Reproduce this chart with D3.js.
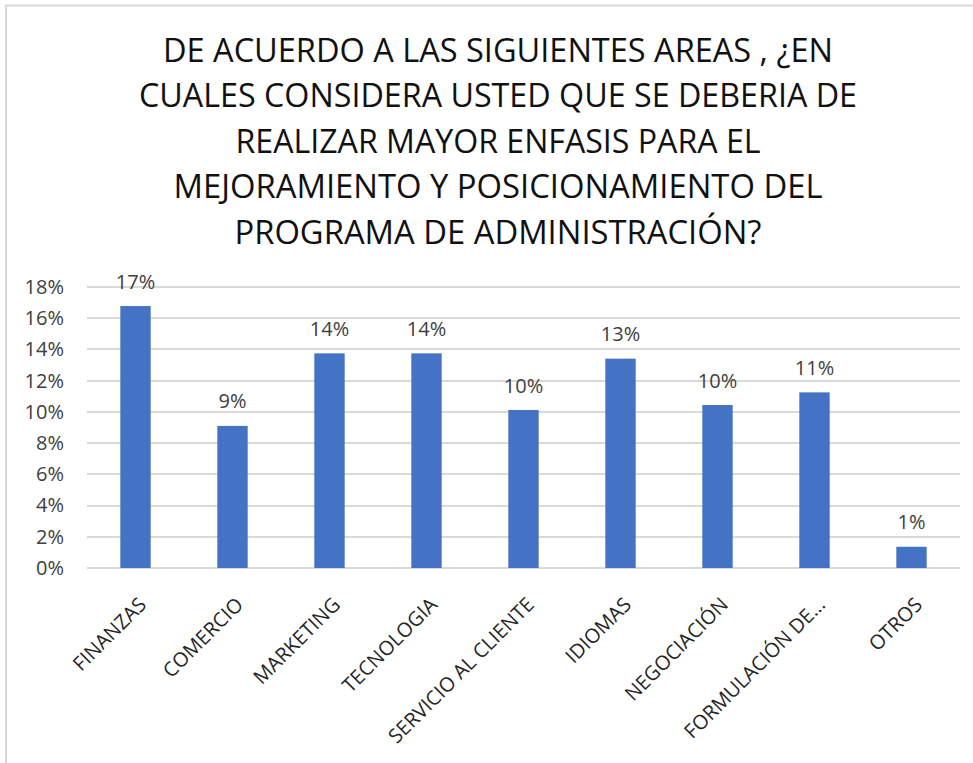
<!DOCTYPE html>
<meta charset="utf-8">
<title>Áreas de mayor énfasis</title>
<style>
body { margin: 0; background: #fff; }
svg { display: block; }
.grid line { stroke: #d9d9d9; stroke-width: 2px; shape-rendering: crispEdges; }
.axis text { font: 20px "Open Sans", sans-serif; fill: #404040; }
.xlabel { font: 20px "Open Sans", sans-serif; fill: #262626; }
.datalabel { font: 20px "Open Sans", sans-serif; fill: #404040; }
.title { font: 33px "Open Sans", sans-serif; fill: #111; }
</style>
<svg class="chart"></svg>
<script src="https://d3js.org/d3.v7.min.js"></script>
<script>

var categories = ["FINANZAS", "COMERCIO", "MARKETING", "TECNOLOGIA", "SERVICIO AL CLIENTE",
                  "IDIOMAS", "NEGOCIACIÓN", "FORMULACIÓN DE...", "OTROS"];
var values = [0.1678, 0.0910, 0.1375, 0.1375, 0.1012, 0.1341, 0.1044, 0.1125, 0.0136];
var yTicks = [0, 0.02, 0.04, 0.06, 0.08, 0.10, 0.12, 0.14, 0.16, 0.18];
var titleLines = ["DE ACUERDO A LAS SIGUIENTES AREAS , ¿EN",
                  "CUALES CONSIDERA USTED QUE SE DEBERIA DE",
                  "REALIZAR MAYOR ENFASIS PARA EL",
                  "MEJORAMIENTO Y POSICIONAMIENTO DEL",
                  "PROGRAMA DE ADMINISTRACIÓN?"];

var width = 973, height = 763;
var plot = {left: 87, right: 960, top: 287, bottom: 568};

var svg = d3.select(".chart")
    .attr("width", width)
    .attr("height", height);

// chart border, runs off the right and bottom edges
svg.append("rect")
    .attr("x", 6).attr("y", 5.5)
    .attr("width", 1000).attr("height", 1000)
    .attr("fill", "none")
    .attr("stroke", "#d9d9d9")
    .attr("stroke-width", 2);

// title
var titleWidths = [670, 718, 525, 649, 527];
svg.append("g").selectAll("text")
    .data(titleLines)
    .enter().append("text")
    .attr("class", "title")
    .attr("x", 498)
    .attr("y", function(d, i) { return 61.5 + i * 45.5; })
    .attr("text-anchor", "middle")
    .attr("textLength", function(d, i) { return titleWidths[i]; })
    .attr("lengthAdjust", "spacingAndGlyphs")
    .text(function(d) { return d; });

var x = d3.scaleBand()
    .domain(categories)
    .range([plot.left, plot.right])
    .paddingInner(0.687)
    .paddingOuter(0.3435);

var y = d3.scaleLinear()
    .domain([0, 0.18])
    .range([plot.bottom, plot.top]);

// gridlines
svg.append("g")
    .attr("class", "grid")
    .selectAll("line")
    .data(yTicks)
    .enter().append("line")
    .attr("x1", plot.left).attr("x2", plot.right)
    .attr("y1", function(d) { return Math.round(y(d)); })
    .attr("y2", function(d) { return Math.round(y(d)); });

// y axis labels
var yAxis = d3.axisLeft(y)
    .tickValues(yTicks)
    .tickFormat(d3.format(".0%"))
    .tickSize(0)
    .tickPadding(0);

svg.append("g")
    .attr("class", "axis")
    .attr("transform", "translate(64,0)")
    .call(yAxis)
    .call(function(g) { g.select(".domain").remove(); });

// bars
svg.append("g").selectAll("rect")
    .data(values)
    .enter().append("rect")
    .attr("x", function(d, i) { return x(categories[i]); })
    .attr("y", function(d) { return y(d); })
    .attr("width", x.bandwidth())
    .attr("height", function(d) { return y(0) - y(d); })
    .attr("fill", "#4472c4");

// value labels
svg.append("g").selectAll("text")
    .data(values)
    .enter().append("text")
    .attr("class", "datalabel")
    .attr("x", function(d, i) { return x(categories[i]) + x.bandwidth() / 2; })
    .attr("y", function(d) { return y(d) - 17.5; })
    .attr("text-anchor", "middle")
    .text(function(d) { return d3.format(".0%")(d); });

// category labels, rotated
svg.append("g").selectAll("text")
    .data(categories)
    .enter().append("text")
    .attr("class", "xlabel")
    .attr("transform", function(d) {
      return "translate(" + (x(d) + x.bandwidth() / 2 + 7) + "," + 601 + ") rotate(-45)";
    })
    .attr("text-anchor", "end")
    .attr("dy", "0.35em")
    .text(function(d) { return d; });

</script>
